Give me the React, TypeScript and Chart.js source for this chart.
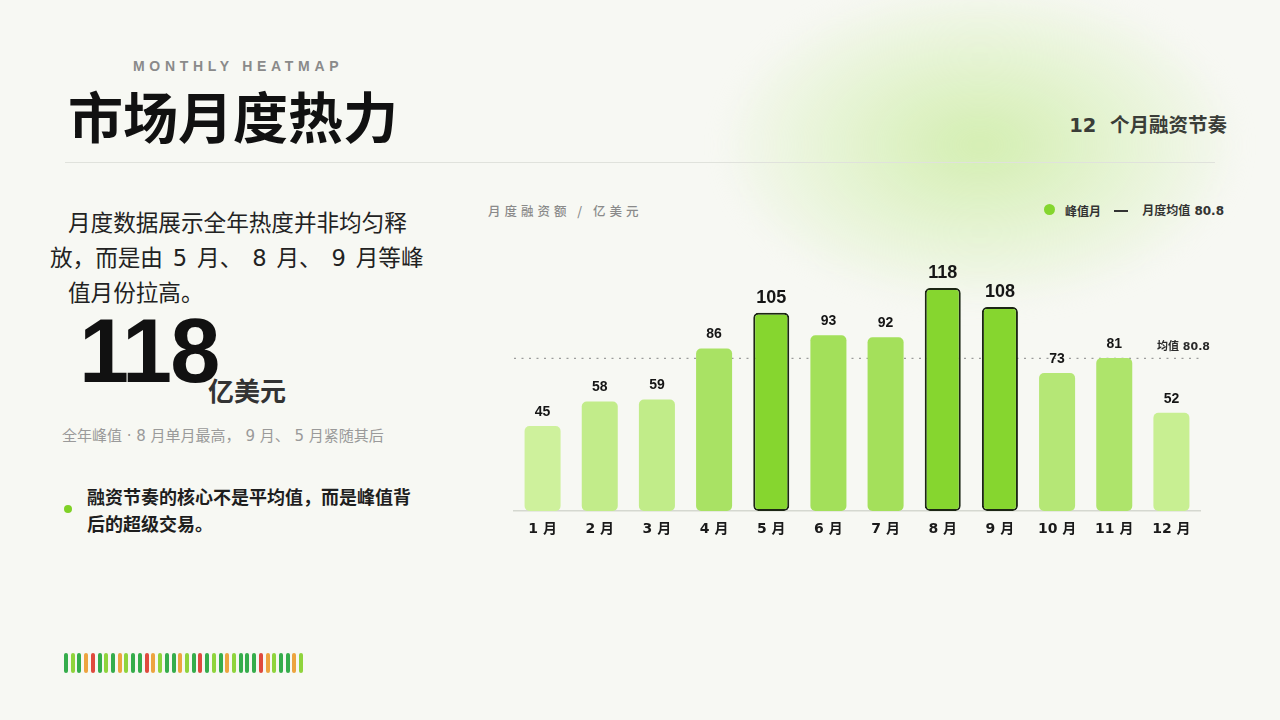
import React, { useEffect, useRef } from "react";
import { Chart, registerables } from "chart.js";

Chart.register(...registerables);

// ---- data ----
const MONTH_LABELS = ["1 月", "2 月", "3 月", "4 月", "5 月", "6 月", "7 月", "8 月", "9 月", "10 月", "11 月", "12 月"];
const FUNDING_VALUES = [45, 58, 59, 86, 105, 93, 92, 118, 108, 73, 81, 52];
const PEAK_MONTH_INDEXES = [4, 7, 8];
const MONTHLY_AVERAGE = 80.8;
const Y_MAX = 135;
// decorative heat strip levels: g = green, l = light green, o = orange, r = red
const STRIP_LEVELS = [
  "g", "l", "g", "o", "r", "g", "l", "g", "o", "l", "g", "g",
  "r", "o", "l", "g", "g", "o", "l", "g", "r", "g", "l", "g",
  "o", "l", "g", "g", "g", "r", "o", "l", "g", "g", "o", "l",
];

const STRIP_COLORS: Record<string, string> = {
  g: "#35ad4b",
  l: "#8fd43c",
  o: "#eda43f",
  r: "#df4a3d",
};

const CJK = '"Noto Sans CJK SC", "Noto Sans", sans-serif';
const DEJA = '"DejaVu Sans", "Noto Sans CJK SC", sans-serif';
const LIB = '"Liberation Sans", "Noto Sans CJK SC", sans-serif';

const PEAK_FILL = "#86d62f";
const LOW_RGB = [206, 241, 156];
const HIGH_RGB = [163, 224, 90];

function barColor(v: number, i: number): string {
  if (PEAK_MONTH_INDEXES.includes(i)) return PEAK_FILL;
  const t = Math.max(0, Math.min(1, (v - 45) / (93 - 45)));
  const c = LOW_RGB.map((lo, k) => Math.round(lo + (HIGH_RGB[k] - lo) * t));
  return `rgb(${c[0]},${c[1]},${c[2]})`;
}

const avgLinePlugin = {
  id: "avgLine",
  beforeDatasetsDraw(chart: any) {
    const { ctx, chartArea, scales } = chart;
    const y = scales.y.getPixelForValue(MONTHLY_AVERAGE);
    ctx.save();
    ctx.strokeStyle = "#9c9c9c";
    ctx.lineWidth = 1.3;
    ctx.setLineDash([2, 5.5]);
    ctx.beginPath();
    ctx.moveTo(chartArea.left, y);
    ctx.lineTo(chartArea.right, y);
    ctx.stroke();
    ctx.restore();
  },
  afterDatasetsDraw(chart: any) {
    const { ctx, chartArea, scales } = chart;
    const y = scales.y.getPixelForValue(MONTHLY_AVERAGE);
    ctx.save();
    ctx.fillStyle = "#2a2a2a";
    ctx.font = `bold 11px ${DEJA}`;
    ctx.textAlign = "right";
    ctx.textBaseline = "middle";
    ctx.fillText(`均值 ${MONTHLY_AVERAGE}`, chartArea.right + 10, y - 11);
    ctx.restore();
  },
};

const valueLabelPlugin = {
  id: "valueLabels",
  afterDatasetsDraw(chart: any) {
    const { ctx } = chart;
    const meta = chart.getDatasetMeta(0);
    ctx.save();
    ctx.textAlign = "center";
    ctx.textBaseline = "middle";
    ctx.fillStyle = "#151515";
    meta.data.forEach((bar: any, i: number) => {
      const peak = PEAK_MONTH_INDEXES.includes(i);
      ctx.font = peak ? `bold 18px ${LIB}` : `bold 14px ${LIB}`;
      ctx.fillText(String(FUNDING_VALUES[i]), bar.x, bar.y - (peak ? 15 : 14));
    });
    ctx.restore();
  },
};

function BarChart() {
  const ref = useRef<HTMLCanvasElement | null>(null);
  useEffect(() => {
    if (!ref.current) return;
    const chart = new Chart(ref.current, {
      type: "bar",
      data: {
        labels: MONTH_LABELS,
        datasets: [
          {
            data: FUNDING_VALUES,
            backgroundColor: FUNDING_VALUES.map((v, i) => barColor(v, i)),
            borderColor: FUNDING_VALUES.map((_, i) => (PEAK_MONTH_INDEXES.includes(i) ? "#1c2614" : "rgba(0,0,0,0)")),
            borderWidth: FUNDING_VALUES.map((_, i) => (PEAK_MONTH_INDEXES.includes(i) ? 2 : 0)),
            borderRadius: 5,
            borderSkipped: false,
            barPercentage: 0.63,
            categoryPercentage: 1,
          },
        ],
      },
      options: {
        animation: false,
        responsive: true,
        maintainAspectRatio: false,
        layout: { padding: { top: 26, left: 34, right: 40, bottom: 0 } },
        plugins: { legend: { display: false }, tooltip: { enabled: false } },
        scales: {
          x: {
            grid: { display: false, drawTicks: false },
            border: { display: true, color: "#d5d8d0", width: 1.5 },
            ticks: {
              color: "#1a1a1a",
              padding: 10,
              font: { family: DEJA, size: 14, weight: "bold" },
            },
            afterFit: (scale: any) => {
              scale.height = 39;
            },
          },
          y: { display: false, min: 0, max: Y_MAX },
        },
      },
      plugins: [avgLinePlugin, valueLabelPlugin],
    });
    return () => chart.destroy();
  }, []);
  return (
    <div style={{ position: "absolute", left: 480, top: 230, width: 760, height: 320 }}>
      <canvas ref={ref} />
    </div>
  );
}

export default function App() {
  const abs = (s: React.CSSProperties): React.CSSProperties => ({ position: "absolute", whiteSpace: "nowrap", ...s });
  return (
    <div
      style={{
        position: "absolute",
        left: 0,
        top: 0,
        width: 1280,
        height: 720,
        overflow: "hidden",
        background: "#f7f8f3",
        fontFamily: CJK,
      }}
    >
      {/* glow */}
      <div
        style={abs({
          left: 730,
          top: -10,
          width: 500,
          height: 310,
          borderRadius: "50%",
          background:
            "radial-gradient(ellipse at 50% 50%, rgba(205,236,165,0.85) 0%, rgba(215,240,185,0.55) 40%, rgba(235,244,222,0.25) 70%, rgba(247,248,243,0) 100%)",
          filter: "blur(12px)",
        })}
      />

      <div style={abs({ left: 133, top: 57, fontFamily: LIB, fontWeight: 700, fontSize: 14, letterSpacing: 4.7, color: "#8a8a8a", lineHeight: "18px" })}>
        MONTHLY HEATMAP
      </div>
      <div style={abs({ left: 68, top: 81, fontFamily: CJK, fontWeight: 700, fontSize: 55, color: "#111", lineHeight: "66px" })}>
        市场月度热力
      </div>
      <div style={abs({ right: 53, top: 113, fontFamily: DEJA, fontWeight: 700, fontSize: 19.5, color: "#3a3d38", letterSpacing: 0, lineHeight: "26px" })}>
        12&nbsp; 个月融资节奏
      </div>
      <div style={abs({ left: 65, top: 162, width: 1150, height: 1, background: "#e0e2dc" })} />

      {/* left text */}
      <div style={abs({ left: 68, top: 206, fontFamily: DEJA, fontSize: 22.6, color: "#222", lineHeight: "34px" })}>
        月度数据展示全年热度并非均匀释
      </div>
      <div style={abs({ left: 50, top: 241, fontFamily: DEJA, fontSize: 22.6, color: "#222", lineHeight: "34px", wordSpacing: 2.7 })}>
        放，而是由 5 月、 8 月、 9 月等峰
      </div>
      <div style={abs({ left: 68, top: 276, fontFamily: DEJA, fontSize: 22.6, color: "#222", lineHeight: "34px" })}>
        值月份拉高。
      </div>

      <div style={abs({ left: 79, top: 306, fontFamily: LIB, fontWeight: 700, fontSize: 90, letterSpacing: -2, color: "#111", lineHeight: "90px" })}>
        118
      </div>
      <div style={abs({ left: 208, top: 375, fontFamily: CJK, fontWeight: 700, fontSize: 26, color: "#333", lineHeight: "30px" })}>
        亿美元
      </div>
      <div style={abs({ left: 62, top: 426, fontFamily: DEJA, fontSize: 15, color: "#9a9a9a", lineHeight: "20px" })}>
        全年峰值 · 8 月单月最高， 9 月、 5 月紧随其后
      </div>

      <div style={abs({ left: 64, top: 505, width: 8, height: 8, borderRadius: "50%", background: "#7fd126" })} />
      <div style={abs({ left: 87, top: 483, fontFamily: CJK, fontWeight: 700, fontSize: 18, color: "#1e1e1e", lineHeight: "27px" })}>
        融资节奏的核心不是平均值，而是峰值背
        <br />
        后的超级交易。
      </div>

      {/* strip */}
      {STRIP_LEVELS.map((lv, i) => (
        <div
          key={i}
          style={abs({
            left: 64 + i * 6.72,
            top: 653,
            width: 4,
            height: 20,
            borderRadius: 2,
            background: STRIP_COLORS[lv],
          })}
        />
      ))}

      {/* chart header + legend */}
      <div style={abs({ left: 488, top: 202, fontFamily: CJK, fontWeight: 500, fontSize: 12.5, letterSpacing: 4, color: "#8a8a8a", lineHeight: "18px" })}>
        月度融资额 / 亿美元
      </div>
      <div style={abs({ left: 1044, top: 204, width: 11, height: 11, borderRadius: "50%", background: "#84d62e" })} />
      <div style={abs({ left: 1065, top: 202, fontFamily: CJK, fontWeight: 700, fontSize: 12, color: "#333", lineHeight: "18px" })}>
        峰值月
      </div>
      <div style={abs({ left: 1114, top: 210, width: 14, height: 2, background: "#333" })} />
      <div style={abs({ right: 56, top: 202, fontFamily: DEJA, fontWeight: 700, fontSize: 12, color: "#333", lineHeight: "18px" })}>
        月度均值 80.8
      </div>

      <BarChart />
    </div>
  );
}
